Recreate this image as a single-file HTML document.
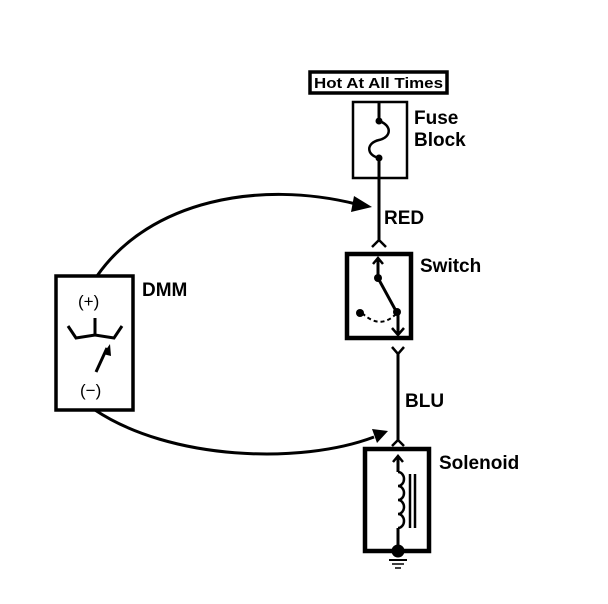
<!DOCTYPE html>
<html><head><style>
html,body{margin:0;padding:0;background:#fff;}
svg{display:block;}
text{font-family:"Liberation Sans",sans-serif;fill:#000;}
</style></head><body>
<svg width="608" height="604" viewBox="0 0 608 604" xmlns="http://www.w3.org/2000/svg">
<g fill="none" stroke="#000">
<rect x="310" y="72" width="137" height="21" stroke-width="3.5"/>
<rect x="353" y="102" width="54" height="76" stroke-width="2.5"/>
<line x1="379" y1="102" x2="379" y2="121" stroke-width="3"/>
<path d="M379,121 C392,125 392,137 379,140 C366,143 366,155 379,158" stroke-width="2.5"/>
<line x1="379" y1="158" x2="379" y2="242" stroke-width="3"/>
<path d="M372,247 L379,240 L386,247" stroke-width="2.5"/>
<rect x="347" y="254" width="64" height="84" stroke-width="4.5"/>
<path d="M373,264 L378,258 L383,264" stroke-width="2.5"/>
<line x1="378" y1="258" x2="378" y2="278" stroke-width="3"/>
<line x1="378" y1="278" x2="396" y2="311" stroke-width="3"/>
<path d="M362,313 Q380,330 396,314" stroke-width="2" stroke-dasharray="4,3"/>
<line x1="398" y1="313" x2="398" y2="335" stroke-width="3"/>
<path d="M392,328 L398,335 L404,328" stroke-width="2.5"/>
<path d="M392,347 L398,354 L404,347" stroke-width="2.5"/>
<line x1="398" y1="354" x2="398" y2="440" stroke-width="3"/>
<path d="M392,446 L398,440 L404,446" stroke-width="2.5"/>
<rect x="365" y="449" width="64" height="102" stroke-width="4.5"/>
<path d="M393,462 L398,456 L403,462" stroke-width="2.5"/>
<line x1="398" y1="456" x2="398" y2="472" stroke-width="3"/>
<path d="M398,472 a6,7 0 0 1 0,14 a6,7 0 0 1 0,14 a6,7 0 0 1 0,14 a6,7 0 0 1 0,14" stroke-width="2.5"/>
<line x1="398" y1="528" x2="398" y2="552" stroke-width="3"/>
<line x1="410" y1="474" x2="410" y2="528" stroke-width="2.5"/>
<line x1="415" y1="474" x2="415" y2="528" stroke-width="2.5"/>
<line x1="389" y1="560" x2="407" y2="560" stroke-width="2"/>
<line x1="392" y1="564" x2="404" y2="564" stroke-width="1.5"/>
<line x1="395" y1="568" x2="401" y2="568" stroke-width="1.5"/>
<rect x="56" y="276" width="77" height="134" stroke-width="3.5"/>
<path d="M68,326 L76,338 L95,335 L114,338 L122,326" stroke-width="3"/>
<line x1="95" y1="318" x2="95" y2="335" stroke-width="3"/>
<line x1="96" y1="372" x2="107" y2="348" stroke-width="3"/>
<path d="M97,276 C150,200 260,180 356,204" stroke-width="3"/>
<path d="M95,410 C170,460 300,465 374,437" stroke-width="3"/>
</g>
<g fill="#000">
<circle cx="379" cy="121" r="3.5"/><circle cx="379" cy="158" r="3.5"/>
<circle cx="378" cy="278" r="4"/><circle cx="397" cy="312" r="4"/><circle cx="360" cy="313" r="4"/>
<circle cx="398" cy="551" r="6.5"/>
<polygon points="110,344 103,354 111,356"/>
<polygon points="372,207 354,196 351,212"/>
<polygon points="388,431 372,429 377,443"/>
</g>
<text x="314" y="88" font-size="15" font-weight="bold" textLength="129" lengthAdjust="spacingAndGlyphs">Hot At All Times</text>
<g font-weight="bold" font-size="19">
<text x="414" y="124">Fuse</text>
<text x="414" y="146">Block</text>
<text x="384" y="224">RED</text>
<text x="420" y="272">Switch</text>
<text x="142" y="296">DMM</text>
<text x="405" y="407">BLU</text>
<text x="439" y="469">Solenoid</text>
</g>
<text x="78" y="307" font-size="17">(+)</text>
<text x="80" y="396" font-size="17">(−)</text>
</svg>
</body></html>
